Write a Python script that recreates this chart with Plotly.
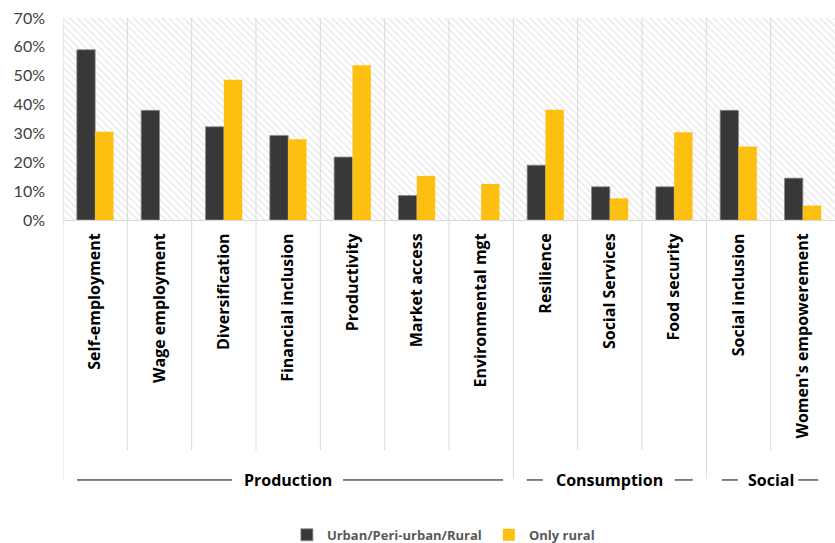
import plotly.graph_objects as go

# Outcome categories and shares of interventions reporting them
categories = [
    "Self-employment", "Wage employment", "Diversification", "Financial inclusion",
    "Productivity", "Market access", "Environmental mgt", "Resilience",
    "Social Services", "Food security", "Social inclusion", "Women's empowerement",
]
urban_periurban_rural = [0.59, 0.38, 0.323, 0.293, 0.218, 0.085, 0.0, 0.19, 0.115, 0.115, 0.38, 0.145]
only_rural = [0.306, 0.0, 0.486, 0.28, 0.536, 0.153, 0.125, 0.382, 0.075, 0.304, 0.255, 0.05]

# Outcome groups: (label, first category index, last category index)
groups = [("Production", 0, 6), ("Consumption", 7, 9), ("Social", 10, 11)]

y_ticks = [0, 0.1, 0.2, 0.3, 0.4, 0.5, 0.6, 0.7]

DARK = "#383838"
YELLOW = "#FEC010"
GRID = "#d9d9d9"
n = len(categories)
bar_w = 0.285

fig = go.Figure()

# Hatched plot background, drawn as one wide bar behind the data
fig.add_trace(go.Bar(
    x=[categories[0]], y=[y_ticks[-1]], offset=-0.5, width=n,
    marker=dict(color="white", line=dict(width=0),
                pattern=dict(shape="\\", fgcolor="#d4d4d4", bgcolor="white",
                             size=5, solidity=0.3)),
    showlegend=False, hoverinfo="skip",
))

fig.add_trace(go.Bar(
    x=categories, y=urban_periurban_rural, name="Urban/Peri-urban/Rural",
    offset=-bar_w, width=bar_w,
    marker=dict(color=DARK,
                line=dict(color="#8a8a8a", width=[0.8 if v > 0 else 0 for v in urban_periurban_rural])),
))
fig.add_trace(go.Bar(
    x=categories, y=only_rural, name="Only rural",
    offset=0, width=bar_w,
    marker=dict(color=YELLOW, line=dict(width=0)),
))

# Category separators; group boundaries run further down
group_starts = {g[1] for g in groups}
shapes = []
for i in range(n):
    bottom = -1.282 if i in group_starts else -1.139
    shapes.append(dict(type="line", xref="x", yref="paper",
                       x0=i - 0.5, x1=i - 0.5, y0=1, y1=bottom,
                       line=dict(color=GRID, width=1)))

# Group labels flanked by rules
label_y = -1.287
rule_spans = [
    (-0.282, 2.127), (3.853, 6.34),
    (6.71, 6.96), (9.01, 9.29),
    (9.74, 9.99), (10.93, 11.24),
]
for x0, x1 in rule_spans:
    shapes.append(dict(type="line", xref="x", yref="paper",
                       x0=x0, x1=x1, y0=label_y, y1=label_y,
                       line=dict(color="black", width=1)))

annotations = []
for label, a, b in groups:
    annotations.append(dict(
        x=(a + b) / 2, y=label_y, xref="x", yref="paper",
        text=f"<b>{label}</b>", showarrow=False,
        font=dict(family="Open Sans", size=16, color="black"),
        xanchor="center", yanchor="middle",
    ))

fig.update_layout(
    width=835, height=543,
    margin=dict(l=63, r=0, t=18, b=323),
    barmode="overlay",
    plot_bgcolor="white", paper_bgcolor="white",
    showlegend=True,
    legend=dict(orientation="h", x=0.29, xanchor="left",
                yref="container", y=0.015, yanchor="middle",
                font=dict(family="Open Sans", size=13, color="#595959", weight="bold"),
                traceorder="normal", entrywidth=157, bgcolor="rgba(0,0,0,0)"),
    shapes=shapes, annotations=annotations,
)
fig.update_xaxes(
    type="category", range=[-0.5, n - 0.5],
    tickangle=-90, tickfont=dict(family="Open Sans", size=16, color="black", weight="bold"),
    showline=True, linecolor=GRID, linewidth=1, showgrid=False, ticks="",
    ticklabelstandoff=6,
)
fig.update_yaxes(
    range=[0, 0.7], tickvals=y_ticks, tickformat=".0%",
    tickfont=dict(family="Lato", size=16, color="#404040"),
    showgrid=False, zeroline=False, showline=False, ticks="", ticklabelstandoff=17,
)

fig.write_html("out.html")
